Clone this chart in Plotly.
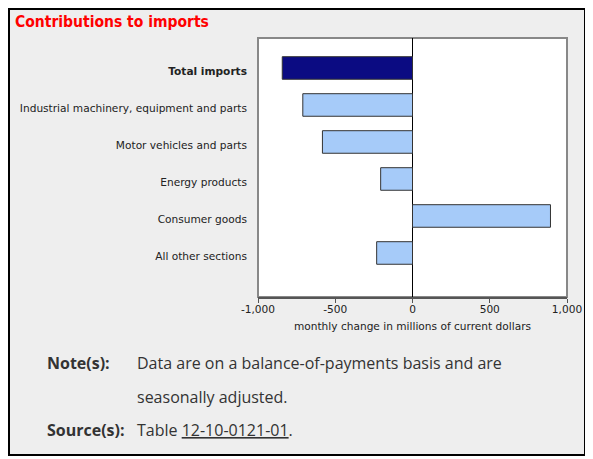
import plotly.graph_objects as go

categories = ['Total imports', 'Industrial machinery, equipment and parts',
              'Motor vehicles and parts', 'Energy products', 'Consumer goods',
              'All other sections']
values = [-843, -710, -583, -206, 893, -232]
bar_colors = ['#0b0b82', '#a6cbf9', '#a6cbf9', '#a6cbf9', '#a6cbf9', '#a6cbf9']
x_ticks = [-1000, -500, 0, 500, 1000]
x_ticktext = ['-1,000', '-500', '0', '500', '1,000']

# page body adds an 8px margin, so the figure is laid out in screen pixels minus 8
OFF = 8
W, H = 593 - OFF, 459 - OFF
L, R, T, B = 258 - OFF, 26, 38 - OFF, 162
pw, ph = W - L - R, H - T - B

# screen pixel -> paper helpers
def px(x):
    return (x - OFF - L) / pw

def py(y):
    return (H - B - (y - OFF)) / ph

labels = ['<b>' + c + '</b>' if i == 0 else c for i, c in enumerate(categories)]

fig = go.Figure()
fig.add_trace(go.Bar(
    x=values, y=list(range(len(categories))), orientation='h',
    width=0.61,
    marker=dict(color=bar_colors, line=dict(color='#333333', width=1)),
    hoverinfo='x+y'))

fig.update_layout(
    width=W, height=H,
    margin=dict(l=L, r=R, t=T, b=B),
    paper_bgcolor='white', plot_bgcolor='white',
    showlegend=False,
    font=dict(family='DejaVu Sans', size=10.6, color='#222222'),
    xaxis=dict(range=[-1000, 1000], tickvals=x_ticks, ticktext=x_ticktext,
               showgrid=False, zeroline=True, zerolinecolor='black',
               zerolinewidth=1, showline=True, linecolor='#555555',
               linewidth=2, ticks='outside', ticklen=4, tickcolor='#555555',
               ticklabelstandoff=-3,
               tickfont=dict(size=10.6, color='#222222'),
               title=dict(text='monthly change in millions of current dollars',
                          font=dict(size=10.6, color='#222222'), standoff=9)),
    yaxis=dict(range=[6.19, -0.81], tickvals=list(range(len(categories))),
               ticktext=labels, showgrid=False, zeroline=False,
               ticklabelstandoff=10, ticklabelshift=-3,
               tickfont=dict(size=10.6, color='#222222')),
)

shapes = [
    dict(type='rect', xref='paper', yref='paper', layer='below',
         x0=px(9), x1=px(585), y0=py(455), y1=py(9),
         fillcolor='#eeeeee', line=dict(color='black', width=2)),
    dict(type='rect', xref='paper', yref='paper', layer='below',
         x0=0, x1=1, y0=0, y1=1,
         fillcolor='white', line=dict(color='#888888', width=2)),
]
fig.update_layout(shapes=shapes)

note_font = dict(family='Open Sans', size=16, color='#333333')
ann = [
    dict(text='<b>Contributions to imports</b>', x=px(13), y=py(22),
         font=dict(family='DejaVu Sans Condensed, Roboto Condensed, Roboto',
                   size=15.5, color='#ff0000')),
    dict(text='<b>Note(s):</b>', x=px(45), y=py(363), font=note_font),
    dict(text='Data are on a balance-of-payments basis and are', x=px(135),
         y=py(363), font=note_font),
    dict(text='seasonally adjusted.', x=px(135), y=py(397), font=note_font),
    dict(text='<b>Source(s):</b>', x=px(45), y=py(430), font=note_font),
    dict(text='Table <u>12-10-0121-01</u>.', x=px(135), y=py(430), font=note_font),
]
for a in ann:
    a.update(xref='paper', yref='paper', xanchor='left', yanchor='middle',
             showarrow=False)
fig.update_layout(annotations=ann)

fig.write_html('out.html')
